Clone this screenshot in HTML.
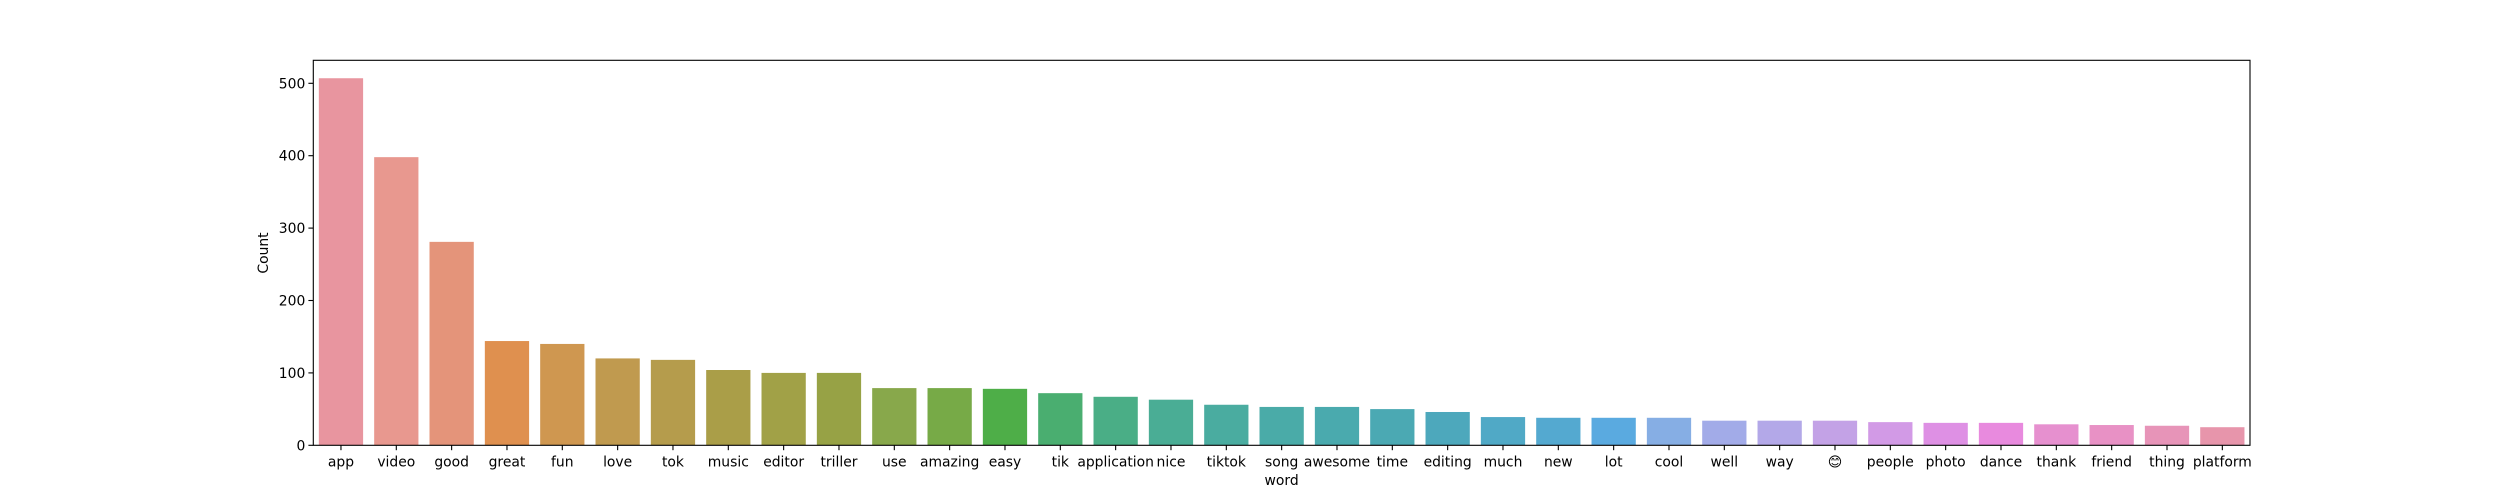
<!DOCTYPE html>
<html><head><meta charset="utf-8"><style>
html,body{margin:0;padding:0;background:#fff;}
svg{display:block;font-family:"DejaVu Sans","Liberation Sans",sans-serif;}
</style></head><body>
<svg id="chart" width="2500" height="500" xmlns="http://www.w3.org/2000/svg">
<g id="bars"></g>
<g id="xticks"></g>
<g id="yticks"></g>
<rect x="313.3" y="60.3" width="1936.7" height="385" fill="none" stroke="#000" stroke-width="1.1"/>
<text x="1281.6" y="485" font-size="13.9" text-anchor="middle">word</text>
<text transform="translate(268,253) rotate(-90)" font-size="13.9" text-anchor="middle">Count</text>
</svg>
<script>
const categories = ["app","video","good","great","fun","love","tok","music","editor","triller","use","amazing","easy","tik","application","nice","tiktok","song","awesome","time","editing","much","new","lot","cool","well","way","😊","people","photo","dance","thank","friend","thing","platform"];
const counts = [507,398,281,144,140,120,118,104,100,100,79,79,78,72,67,63,56,53,53,50,46,39,38,38,38,34,34,34,32,31,31,29,28,27,25];
const colors = ["#e8959f","#e8988f","#e4947a","#df904f","#cf9750","#c09a4f","#b59c4c","#aa9e48","#a1a147","#97a245","#88a84b","#77aa47","#4eae48","#4aae70","#4aae86","#4aad95","#4aaca0","#4aaba8","#4aaaae","#4ba9b3","#4da8bc","#50a9c6","#54a9d0","#5aaae0","#86aee4","#a2abe8","#b3a8e8","#c3a2e6","#d29ae6","#de90e4","#e88ade","#e690cf","#e891c5","#e794b8","#e795ab"];
const yTicks = [0,100,200,300,400,500];
const L=313.3,R=2250,T=60.3,B=445.3,YMAX=(B-T)/0.724;
const NS="http://www.w3.org/2000/svg";
const slot=(R-L)/categories.length;
function xc(i){return L+slot*(i+0.5);}
function y(v){return B-(v/YMAX)*(B-T);}
const bars=document.getElementById('bars'),xt=document.getElementById('xticks'),yt=document.getElementById('yticks');
categories.forEach((c,i)=>{
  const r=document.createElementNS(NS,'rect');
  
  
  r.setAttribute('x',xc(i)-slot*0.4);r.setAttribute('width',slot*0.8);
  r.setAttribute('y',y(counts[i]));r.setAttribute('height',B-y(counts[i]));
  r.setAttribute('fill',colors[i]);bars.appendChild(r);
  const l=document.createElementNS(NS,'line');
  
  
  l.setAttribute('x1',xc(i));l.setAttribute('x2',xc(i));l.setAttribute('y1',B);l.setAttribute('y2',B+4.9);
  l.setAttribute('stroke','#000');l.setAttribute('stroke-width','1.1');xt.appendChild(l);
  const t=document.createElementNS(NS,'text');
  
  
  t.setAttribute('x',xc(i));t.setAttribute('y',B+21);t.setAttribute('font-size','13.9');t.setAttribute('text-anchor','middle');
  t.textContent=c;xt.appendChild(t);
});
yTicks.forEach(v=>{
  const l=document.createElementNS(NS,'line');
  
  
  l.setAttribute('x1',L-4.9);l.setAttribute('x2',L);l.setAttribute('y1',y(v));l.setAttribute('y2',y(v));
  l.setAttribute('stroke','#000');l.setAttribute('stroke-width','1.1');yt.appendChild(l);
  const t=document.createElementNS(NS,'text');
  
  
  t.setAttribute('x',L-8);t.setAttribute('y',y(v)+5);t.setAttribute('font-size','13.9');t.setAttribute('text-anchor','end');
  t.textContent=v;yt.appendChild(t);
});
</script>
</body></html>
